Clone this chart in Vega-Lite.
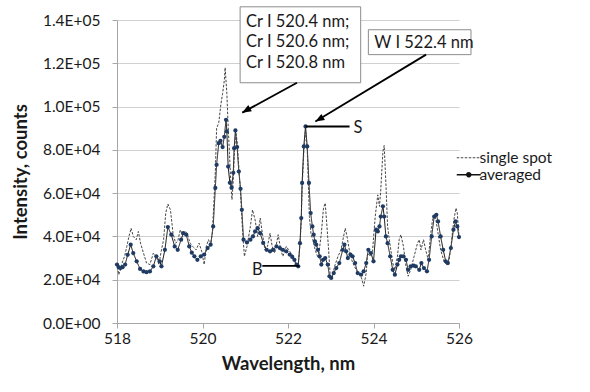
{
  "$schema": "https://vega.github.io/schema/vega-lite/v6.json",
  "autosize": "none",
  "width": 342,
  "height": 303,
  "padding": {"left": 117, "top": 20, "right": 131, "bottom": 69},
  "background": "white",
  "config": {
    "font": "Lato",
    "view": {"stroke": null},
    "axis": {
      "labelFont": "Lato", "labelFontSize": 15.5, "labelColor": "#1a1a1a",
      "titleFont": "Lato", "titleFontSize": 18.5, "titleFontWeight": "bold", "titleColor": "#1a1a1a",
      "domainColor": "#a6a6a6", "tickColor": "#a6a6a6", "tickSize": 5, "labelFlush": false, "labelOverlap": false
    }
  },
  "datasets": {
    "spectra": [
      {"wavelength": 518.00, "intensity": 27000, "series": "averaged"},
      {"wavelength": 518.04, "intensity": 25800, "series": "averaged"},
      {"wavelength": 518.08, "intensity": 25400, "series": "averaged"},
      {"wavelength": 518.13, "intensity": 25800, "series": "averaged"},
      {"wavelength": 518.19, "intensity": 27000, "series": "averaged"},
      {"wavelength": 518.25, "intensity": 31500, "series": "averaged"},
      {"wavelength": 518.32, "intensity": 36200, "series": "averaged"},
      {"wavelength": 518.38, "intensity": 32300, "series": "averaged"},
      {"wavelength": 518.46, "intensity": 28500, "series": "averaged"},
      {"wavelength": 518.54, "intensity": 25000, "series": "averaged"},
      {"wavelength": 518.62, "intensity": 23800, "series": "averaged"},
      {"wavelength": 518.69, "intensity": 23500, "series": "averaged"},
      {"wavelength": 518.77, "intensity": 23800, "series": "averaged"},
      {"wavelength": 518.85, "intensity": 26200, "series": "averaged"},
      {"wavelength": 518.92, "intensity": 30800, "series": "averaged"},
      {"wavelength": 519.00, "intensity": 28500, "series": "averaged"},
      {"wavelength": 519.04, "intensity": 26200, "series": "averaged"},
      {"wavelength": 519.12, "intensity": 33800, "series": "averaged"},
      {"wavelength": 519.19, "intensity": 44300, "series": "averaged"},
      {"wavelength": 519.27, "intensity": 40800, "series": "averaged"},
      {"wavelength": 519.35, "intensity": 35400, "series": "averaged"},
      {"wavelength": 519.42, "intensity": 33800, "series": "averaged"},
      {"wavelength": 519.50, "intensity": 38500, "series": "averaged"},
      {"wavelength": 519.55, "intensity": 41500, "series": "averaged"},
      {"wavelength": 519.62, "intensity": 40800, "series": "averaged"},
      {"wavelength": 519.69, "intensity": 35400, "series": "averaged"},
      {"wavelength": 519.75, "intensity": 32500, "series": "averaged"},
      {"wavelength": 519.81, "intensity": 30800, "series": "averaged"},
      {"wavelength": 519.88, "intensity": 29200, "series": "averaged"},
      {"wavelength": 519.96, "intensity": 30800, "series": "averaged"},
      {"wavelength": 520.04, "intensity": 31600, "series": "averaged"},
      {"wavelength": 520.12, "intensity": 34600, "series": "averaged"},
      {"wavelength": 520.19, "intensity": 36200, "series": "averaged"},
      {"wavelength": 520.25, "intensity": 44600, "series": "averaged"},
      {"wavelength": 520.30, "intensity": 62400, "series": "averaged"},
      {"wavelength": 520.33, "intensity": 73100, "series": "averaged"},
      {"wavelength": 520.38, "intensity": 83100, "series": "averaged"},
      {"wavelength": 520.42, "intensity": 84200, "series": "averaged"},
      {"wavelength": 520.47, "intensity": 81300, "series": "averaged"},
      {"wavelength": 520.51, "intensity": 86000, "series": "averaged"},
      {"wavelength": 520.55, "intensity": 93900, "series": "averaged"},
      {"wavelength": 520.57, "intensity": 88500, "series": "averaged"},
      {"wavelength": 520.60, "intensity": 72300, "series": "averaged"},
      {"wavelength": 520.64, "intensity": 64800, "series": "averaged"},
      {"wavelength": 520.68, "intensity": 62500, "series": "averaged"},
      {"wavelength": 520.72, "intensity": 69400, "series": "averaged"},
      {"wavelength": 520.74, "intensity": 80800, "series": "averaged"},
      {"wavelength": 520.77, "intensity": 89000, "series": "averaged"},
      {"wavelength": 520.81, "intensity": 81300, "series": "averaged"},
      {"wavelength": 520.85, "intensity": 70000, "series": "averaged"},
      {"wavelength": 520.89, "intensity": 62000, "series": "averaged"},
      {"wavelength": 520.92, "intensity": 52300, "series": "averaged"},
      {"wavelength": 520.96, "intensity": 38500, "series": "averaged"},
      {"wavelength": 521.04, "intensity": 37200, "series": "averaged"},
      {"wavelength": 521.12, "intensity": 38500, "series": "averaged"},
      {"wavelength": 521.18, "intensity": 40000, "series": "averaged"},
      {"wavelength": 521.23, "intensity": 42300, "series": "averaged"},
      {"wavelength": 521.29, "intensity": 43800, "series": "averaged"},
      {"wavelength": 521.35, "intensity": 41500, "series": "averaged"},
      {"wavelength": 521.42, "intensity": 37000, "series": "averaged"},
      {"wavelength": 521.50, "intensity": 33800, "series": "averaged"},
      {"wavelength": 521.58, "intensity": 33100, "series": "averaged"},
      {"wavelength": 521.65, "intensity": 33800, "series": "averaged"},
      {"wavelength": 521.73, "intensity": 35400, "series": "averaged"},
      {"wavelength": 521.81, "intensity": 34600, "series": "averaged"},
      {"wavelength": 521.88, "intensity": 33800, "series": "averaged"},
      {"wavelength": 521.96, "intensity": 33100, "series": "averaged"},
      {"wavelength": 522.04, "intensity": 31600, "series": "averaged"},
      {"wavelength": 522.10, "intensity": 30500, "series": "averaged"},
      {"wavelength": 522.15, "intensity": 29200, "series": "averaged"},
      {"wavelength": 522.20, "intensity": 27000, "series": "averaged"},
      {"wavelength": 522.24, "intensity": 26200, "series": "averaged"},
      {"wavelength": 522.28, "intensity": 36900, "series": "averaged"},
      {"wavelength": 522.31, "intensity": 48500, "series": "averaged"},
      {"wavelength": 522.33, "intensity": 64700, "series": "averaged"},
      {"wavelength": 522.37, "intensity": 81600, "series": "averaged"},
      {"wavelength": 522.41, "intensity": 90800, "series": "averaged"},
      {"wavelength": 522.45, "intensity": 81600, "series": "averaged"},
      {"wavelength": 522.49, "intensity": 64700, "series": "averaged"},
      {"wavelength": 522.53, "intensity": 50800, "series": "averaged"},
      {"wavelength": 522.57, "intensity": 44600, "series": "averaged"},
      {"wavelength": 522.60, "intensity": 40800, "series": "averaged"},
      {"wavelength": 522.63, "intensity": 37700, "series": "averaged"},
      {"wavelength": 522.66, "intensity": 36200, "series": "averaged"},
      {"wavelength": 522.70, "intensity": 33800, "series": "averaged"},
      {"wavelength": 522.74, "intensity": 30800, "series": "averaged"},
      {"wavelength": 522.78, "intensity": 27000, "series": "averaged"},
      {"wavelength": 522.82, "intensity": 29200, "series": "averaged"},
      {"wavelength": 522.87, "intensity": 30000, "series": "averaged"},
      {"wavelength": 522.93, "intensity": 27000, "series": "averaged"},
      {"wavelength": 522.97, "intensity": 21600, "series": "averaged"},
      {"wavelength": 523.01, "intensity": 20800, "series": "averaged"},
      {"wavelength": 523.07, "intensity": 23100, "series": "averaged"},
      {"wavelength": 523.13, "intensity": 25400, "series": "averaged"},
      {"wavelength": 523.20, "intensity": 27700, "series": "averaged"},
      {"wavelength": 523.28, "intensity": 33800, "series": "averaged"},
      {"wavelength": 523.32, "intensity": 36200, "series": "averaged"},
      {"wavelength": 523.36, "intensity": 33100, "series": "averaged"},
      {"wavelength": 523.40, "intensity": 30000, "series": "averaged"},
      {"wavelength": 523.46, "intensity": 31600, "series": "averaged"},
      {"wavelength": 523.51, "intensity": 30800, "series": "averaged"},
      {"wavelength": 523.57, "intensity": 27700, "series": "averaged"},
      {"wavelength": 523.63, "intensity": 23100, "series": "averaged"},
      {"wavelength": 523.71, "intensity": 22300, "series": "averaged"},
      {"wavelength": 523.77, "intensity": 23900, "series": "averaged"},
      {"wavelength": 523.83, "intensity": 27700, "series": "averaged"},
      {"wavelength": 523.88, "intensity": 33800, "series": "averaged"},
      {"wavelength": 523.94, "intensity": 32300, "series": "averaged"},
      {"wavelength": 524.00, "intensity": 28500, "series": "averaged"},
      {"wavelength": 524.06, "intensity": 43100, "series": "averaged"},
      {"wavelength": 524.10, "intensity": 42300, "series": "averaged"},
      {"wavelength": 524.14, "intensity": 44600, "series": "averaged"},
      {"wavelength": 524.17, "intensity": 49200, "series": "averaged"},
      {"wavelength": 524.22, "intensity": 53900, "series": "averaged"},
      {"wavelength": 524.25, "intensity": 49200, "series": "averaged"},
      {"wavelength": 524.29, "intensity": 40000, "series": "averaged"},
      {"wavelength": 524.33, "intensity": 36900, "series": "averaged"},
      {"wavelength": 524.39, "intensity": 30800, "series": "averaged"},
      {"wavelength": 524.45, "intensity": 24600, "series": "averaged"},
      {"wavelength": 524.50, "intensity": 22300, "series": "averaged"},
      {"wavelength": 524.56, "intensity": 27000, "series": "averaged"},
      {"wavelength": 524.60, "intensity": 29200, "series": "averaged"},
      {"wavelength": 524.64, "intensity": 30800, "series": "averaged"},
      {"wavelength": 524.70, "intensity": 30800, "series": "averaged"},
      {"wavelength": 524.76, "intensity": 29200, "series": "averaged"},
      {"wavelength": 524.81, "intensity": 24600, "series": "averaged"},
      {"wavelength": 524.87, "intensity": 26200, "series": "averaged"},
      {"wavelength": 524.94, "intensity": 26500, "series": "averaged"},
      {"wavelength": 524.99, "intensity": 26200, "series": "averaged"},
      {"wavelength": 525.07, "intensity": 24600, "series": "averaged"},
      {"wavelength": 525.12, "intensity": 27700, "series": "averaged"},
      {"wavelength": 525.18, "intensity": 25400, "series": "averaged"},
      {"wavelength": 525.25, "intensity": 23900, "series": "averaged"},
      {"wavelength": 525.30, "intensity": 29200, "series": "averaged"},
      {"wavelength": 525.36, "intensity": 40000, "series": "averaged"},
      {"wavelength": 525.42, "intensity": 49200, "series": "averaged"},
      {"wavelength": 525.47, "intensity": 50000, "series": "averaged"},
      {"wavelength": 525.51, "intensity": 46900, "series": "averaged"},
      {"wavelength": 525.57, "intensity": 40000, "series": "averaged"},
      {"wavelength": 525.63, "intensity": 33800, "series": "averaged"},
      {"wavelength": 525.69, "intensity": 28500, "series": "averaged"},
      {"wavelength": 525.74, "intensity": 27700, "series": "averaged"},
      {"wavelength": 525.81, "intensity": 34600, "series": "averaged"},
      {"wavelength": 525.87, "intensity": 43100, "series": "averaged"},
      {"wavelength": 525.92, "intensity": 46900, "series": "averaged"},
      {"wavelength": 525.96, "intensity": 44600, "series": "averaged"},
      {"wavelength": 526.00, "intensity": 39700, "series": "averaged"},
      {"wavelength": 518.00, "intensity": 27700, "series": "single spot"},
      {"wavelength": 518.04, "intensity": 22300, "series": "single spot"},
      {"wavelength": 518.08, "intensity": 24500, "series": "single spot"},
      {"wavelength": 518.12, "intensity": 27700, "series": "single spot"},
      {"wavelength": 518.18, "intensity": 31000, "series": "single spot"},
      {"wavelength": 518.23, "intensity": 35400, "series": "single spot"},
      {"wavelength": 518.28, "intensity": 40000, "series": "single spot"},
      {"wavelength": 518.33, "intensity": 43800, "series": "single spot"},
      {"wavelength": 518.38, "intensity": 40000, "series": "single spot"},
      {"wavelength": 518.45, "intensity": 38500, "series": "single spot"},
      {"wavelength": 518.50, "intensity": 42300, "series": "single spot"},
      {"wavelength": 518.55, "intensity": 36900, "series": "single spot"},
      {"wavelength": 518.62, "intensity": 32300, "series": "single spot"},
      {"wavelength": 518.69, "intensity": 27700, "series": "single spot"},
      {"wavelength": 518.77, "intensity": 27000, "series": "single spot"},
      {"wavelength": 518.85, "intensity": 32300, "series": "single spot"},
      {"wavelength": 518.92, "intensity": 30800, "series": "single spot"},
      {"wavelength": 518.98, "intensity": 27000, "series": "single spot"},
      {"wavelength": 519.04, "intensity": 33800, "series": "single spot"},
      {"wavelength": 519.09, "intensity": 38500, "series": "single spot"},
      {"wavelength": 519.14, "intensity": 50800, "series": "single spot"},
      {"wavelength": 519.19, "intensity": 55000, "series": "single spot"},
      {"wavelength": 519.25, "intensity": 52300, "series": "single spot"},
      {"wavelength": 519.31, "intensity": 41500, "series": "single spot"},
      {"wavelength": 519.37, "intensity": 36900, "series": "single spot"},
      {"wavelength": 519.42, "intensity": 37700, "series": "single spot"},
      {"wavelength": 519.48, "intensity": 43100, "series": "single spot"},
      {"wavelength": 519.54, "intensity": 40000, "series": "single spot"},
      {"wavelength": 519.60, "intensity": 42300, "series": "single spot"},
      {"wavelength": 519.65, "intensity": 40800, "series": "single spot"},
      {"wavelength": 519.71, "intensity": 36900, "series": "single spot"},
      {"wavelength": 519.77, "intensity": 35400, "series": "single spot"},
      {"wavelength": 519.85, "intensity": 33800, "series": "single spot"},
      {"wavelength": 519.92, "intensity": 36900, "series": "single spot"},
      {"wavelength": 519.98, "intensity": 33100, "series": "single spot"},
      {"wavelength": 520.04, "intensity": 27000, "series": "single spot"},
      {"wavelength": 520.09, "intensity": 35400, "series": "single spot"},
      {"wavelength": 520.14, "intensity": 38500, "series": "single spot"},
      {"wavelength": 520.19, "intensity": 36200, "series": "single spot"},
      {"wavelength": 520.23, "intensity": 41500, "series": "single spot"},
      {"wavelength": 520.27, "intensity": 57000, "series": "single spot"},
      {"wavelength": 520.30, "intensity": 70000, "series": "single spot"},
      {"wavelength": 520.33, "intensity": 90000, "series": "single spot"},
      {"wavelength": 520.38, "intensity": 92500, "series": "single spot"},
      {"wavelength": 520.43, "intensity": 101000, "series": "single spot"},
      {"wavelength": 520.47, "intensity": 106000, "series": "single spot"},
      {"wavelength": 520.51, "intensity": 112000, "series": "single spot"},
      {"wavelength": 520.53, "intensity": 118000, "series": "single spot"},
      {"wavelength": 520.57, "intensity": 106000, "series": "single spot"},
      {"wavelength": 520.60, "intensity": 91000, "series": "single spot"},
      {"wavelength": 520.63, "intensity": 78700, "series": "single spot"},
      {"wavelength": 520.67, "intensity": 62000, "series": "single spot"},
      {"wavelength": 520.69, "intensity": 57000, "series": "single spot"},
      {"wavelength": 520.72, "intensity": 66000, "series": "single spot"},
      {"wavelength": 520.75, "intensity": 80000, "series": "single spot"},
      {"wavelength": 520.78, "intensity": 88000, "series": "single spot"},
      {"wavelength": 520.81, "intensity": 84000, "series": "single spot"},
      {"wavelength": 520.85, "intensity": 72000, "series": "single spot"},
      {"wavelength": 520.88, "intensity": 63100, "series": "single spot"},
      {"wavelength": 520.94, "intensity": 41500, "series": "single spot"},
      {"wavelength": 520.98, "intensity": 30800, "series": "single spot"},
      {"wavelength": 521.04, "intensity": 35400, "series": "single spot"},
      {"wavelength": 521.12, "intensity": 44600, "series": "single spot"},
      {"wavelength": 521.17, "intensity": 52300, "series": "single spot"},
      {"wavelength": 521.23, "intensity": 47700, "series": "single spot"},
      {"wavelength": 521.29, "intensity": 40000, "series": "single spot"},
      {"wavelength": 521.35, "intensity": 48500, "series": "single spot"},
      {"wavelength": 521.40, "intensity": 41500, "series": "single spot"},
      {"wavelength": 521.46, "intensity": 33800, "series": "single spot"},
      {"wavelength": 521.52, "intensity": 35400, "series": "single spot"},
      {"wavelength": 521.58, "intensity": 41500, "series": "single spot"},
      {"wavelength": 521.63, "intensity": 35400, "series": "single spot"},
      {"wavelength": 521.69, "intensity": 32300, "series": "single spot"},
      {"wavelength": 521.77, "intensity": 40800, "series": "single spot"},
      {"wavelength": 521.83, "intensity": 33800, "series": "single spot"},
      {"wavelength": 521.88, "intensity": 30800, "series": "single spot"},
      {"wavelength": 521.96, "intensity": 35400, "series": "single spot"},
      {"wavelength": 522.04, "intensity": 33000, "series": "single spot"},
      {"wavelength": 522.08, "intensity": 32300, "series": "single spot"},
      {"wavelength": 522.14, "intensity": 29200, "series": "single spot"},
      {"wavelength": 522.19, "intensity": 27000, "series": "single spot"},
      {"wavelength": 522.24, "intensity": 27500, "series": "single spot"},
      {"wavelength": 522.28, "intensity": 36000, "series": "single spot"},
      {"wavelength": 522.31, "intensity": 47000, "series": "single spot"},
      {"wavelength": 522.33, "intensity": 62000, "series": "single spot"},
      {"wavelength": 522.37, "intensity": 79000, "series": "single spot"},
      {"wavelength": 522.41, "intensity": 89000, "series": "single spot"},
      {"wavelength": 522.45, "intensity": 80000, "series": "single spot"},
      {"wavelength": 522.50, "intensity": 49200, "series": "single spot"},
      {"wavelength": 522.54, "intensity": 40800, "series": "single spot"},
      {"wavelength": 522.58, "intensity": 38500, "series": "single spot"},
      {"wavelength": 522.62, "intensity": 35000, "series": "single spot"},
      {"wavelength": 522.66, "intensity": 32300, "series": "single spot"},
      {"wavelength": 522.71, "intensity": 30000, "series": "single spot"},
      {"wavelength": 522.78, "intensity": 41500, "series": "single spot"},
      {"wavelength": 522.83, "intensity": 53100, "series": "single spot"},
      {"wavelength": 522.87, "intensity": 55400, "series": "single spot"},
      {"wavelength": 522.90, "intensity": 47700, "series": "single spot"},
      {"wavelength": 522.95, "intensity": 33800, "series": "single spot"},
      {"wavelength": 522.99, "intensity": 20800, "series": "single spot"},
      {"wavelength": 523.03, "intensity": 20800, "series": "single spot"},
      {"wavelength": 523.09, "intensity": 26200, "series": "single spot"},
      {"wavelength": 523.17, "intensity": 30800, "series": "single spot"},
      {"wavelength": 523.24, "intensity": 33800, "series": "single spot"},
      {"wavelength": 523.30, "intensity": 40000, "series": "single spot"},
      {"wavelength": 523.34, "intensity": 43800, "series": "single spot"},
      {"wavelength": 523.38, "intensity": 40000, "series": "single spot"},
      {"wavelength": 523.44, "intensity": 33100, "series": "single spot"},
      {"wavelength": 523.49, "intensity": 29200, "series": "single spot"},
      {"wavelength": 523.55, "intensity": 26200, "series": "single spot"},
      {"wavelength": 523.62, "intensity": 23900, "series": "single spot"},
      {"wavelength": 523.67, "intensity": 22300, "series": "single spot"},
      {"wavelength": 523.72, "intensity": 20800, "series": "single spot"},
      {"wavelength": 523.77, "intensity": 17000, "series": "single spot"},
      {"wavelength": 523.83, "intensity": 23100, "series": "single spot"},
      {"wavelength": 523.86, "intensity": 32300, "series": "single spot"},
      {"wavelength": 523.93, "intensity": 30800, "series": "single spot"},
      {"wavelength": 523.98, "intensity": 33800, "series": "single spot"},
      {"wavelength": 524.04, "intensity": 49200, "series": "single spot"},
      {"wavelength": 524.10, "intensity": 59200, "series": "single spot"},
      {"wavelength": 524.14, "intensity": 53900, "series": "single spot"},
      {"wavelength": 524.17, "intensity": 61500, "series": "single spot"},
      {"wavelength": 524.22, "intensity": 79200, "series": "single spot"},
      {"wavelength": 524.25, "intensity": 82000, "series": "single spot"},
      {"wavelength": 524.29, "intensity": 64600, "series": "single spot"},
      {"wavelength": 524.33, "intensity": 44600, "series": "single spot"},
      {"wavelength": 524.37, "intensity": 38500, "series": "single spot"},
      {"wavelength": 524.45, "intensity": 27700, "series": "single spot"},
      {"wavelength": 524.50, "intensity": 24600, "series": "single spot"},
      {"wavelength": 524.56, "intensity": 30800, "series": "single spot"},
      {"wavelength": 524.60, "intensity": 38500, "series": "single spot"},
      {"wavelength": 524.64, "intensity": 40800, "series": "single spot"},
      {"wavelength": 524.70, "intensity": 35400, "series": "single spot"},
      {"wavelength": 524.76, "intensity": 26200, "series": "single spot"},
      {"wavelength": 524.81, "intensity": 21600, "series": "single spot"},
      {"wavelength": 524.87, "intensity": 24600, "series": "single spot"},
      {"wavelength": 524.95, "intensity": 30800, "series": "single spot"},
      {"wavelength": 525.03, "intensity": 36900, "series": "single spot"},
      {"wavelength": 525.07, "intensity": 38500, "series": "single spot"},
      {"wavelength": 525.11, "intensity": 33800, "series": "single spot"},
      {"wavelength": 525.17, "intensity": 38500, "series": "single spot"},
      {"wavelength": 525.22, "intensity": 33800, "series": "single spot"},
      {"wavelength": 525.28, "intensity": 29200, "series": "single spot"},
      {"wavelength": 525.34, "intensity": 41500, "series": "single spot"},
      {"wavelength": 525.38, "intensity": 47700, "series": "single spot"},
      {"wavelength": 525.42, "intensity": 50000, "series": "single spot"},
      {"wavelength": 525.46, "intensity": 47700, "series": "single spot"},
      {"wavelength": 525.51, "intensity": 41500, "series": "single spot"},
      {"wavelength": 525.57, "intensity": 33800, "series": "single spot"},
      {"wavelength": 525.65, "intensity": 28500, "series": "single spot"},
      {"wavelength": 525.71, "intensity": 27000, "series": "single spot"},
      {"wavelength": 525.77, "intensity": 29200, "series": "single spot"},
      {"wavelength": 525.82, "intensity": 36900, "series": "single spot"},
      {"wavelength": 525.88, "intensity": 47700, "series": "single spot"},
      {"wavelength": 525.93, "intensity": 53100, "series": "single spot"},
      {"wavelength": 525.96, "intensity": 50800, "series": "single spot"},
      {"wavelength": 526.00, "intensity": 40000, "series": "single spot"}
    ],
    "boxes": [
      {"wavelength": 520.88, "wavelength2": 523.70, "intensity": 146100, "intensity2": 111000},
      {"wavelength": 523.88, "wavelength2": 526.28, "intensity": 135500, "intensity2": 124000}
    ],
    "labels": [
      {"wavelength": 521.02, "intensity": 139200, "text": "Cr I 520.4 nm;"},
      {"wavelength": 521.02, "intensity": 130000, "text": "Cr I 520.6 nm;"},
      {"wavelength": 521.02, "intensity": 120000, "text": "Cr I 520.8 nm"},
      {"wavelength": 524.02, "intensity": 129400, "text": "W I 522.4 nm"},
      {"wavelength": 523.53, "intensity": 90100, "text": "S"},
      {"wavelength": 521.16, "intensity": 24600, "text": "B"}
    ],
    "segments": [
      {"wavelength": 522.41, "intensity": 90800, "wavelength2": 523.44, "intensity2": 90800},
      {"wavelength": 521.40, "intensity": 26400, "wavelength2": 522.26, "intensity2": 26400},
      {"wavelength": 522.21, "intensity": 111000, "wavelength2": 520.93, "intensity2": 97200},
      {"wavelength": 525.23, "intensity": 124000, "wavelength2": 522.64, "intensity2": 93100}
    ],
    "arrowheads": [
      {"wavelength": 520.93, "intensity": 97200},
      {"wavelength": 522.64, "intensity": 93100}
    ]
  },
  "layer": [
    {
      "data": {"name": "spectra"},
      "mark": {"type": "line", "strokeWidth": 1},
      "encoding": {
        "x": {
          "field": "wavelength", "type": "quantitative",
          "scale": {"domain": [518, 526], "nice": false, "zero": false},
          "axis": {"title": "Wavelength, nm", "values": [518, 520, 522, 524, 526], "format": "d", "grid": false, "labelPadding": 3, "titlePadding": 8}
        },
        "y": {
          "field": "intensity", "type": "quantitative",
          "scale": {"domain": [0, 140000], "nice": false},
          "axis": {
            "title": "Intensity, counts",
            "values": [0, 20000, 40000, 60000, 80000, 100000, 120000, 140000],
            "labelExpr": "replace(upper(format(datum.value, '.1e')), 'E+', 'E+0')",
            "grid": true, "gridColor": "#d0d0d0", "labelPadding": 12, "titlePadding": 12
          }
        },
        "color": {
          "field": "series", "type": "nominal",
          "scale": {"domain": ["single spot", "averaged"], "range": ["#444444", "#111111"]},
          "legend": {
            "orient": "none", "legendX": 344, "legendY": 130, "title": null, "padding": 0,
            "labelFont": "Lato", "labelFontSize": 15.5, "labelColor": "#1a1a1a", "labelOffset": 3,
            "symbolSize": 576, "rowPadding": -9,
            "encode": {
              "symbols": {
                "update": {
                  "size": {"value": 576},
                  "shape": {"signal": "datum.value === 'averaged' ? 'M-1,0L1,0M-0.16,0A0.16,0.16,0,1,1,0.16,0A0.16,0.16,0,1,1,-0.16,0Z' : 'M-1,0L1,0'"},
                  "fill": {"signal": "datum.value === 'averaged' ? '#1F3B63' : 'transparent'"},
                  "strokeWidth": {"signal": "datum.value === 'averaged' ? 1.7 : 1"}
                }
              }
            }
          }
        },
        "strokeDash": {
          "field": "series", "type": "nominal",
          "scale": {"domain": ["single spot", "averaged"], "range": [[2.5, 1.5], [1, 0]]}
        },
        "strokeWidth": {"condition": {"test": "datum.series === 'averaged'", "value": 1.9}, "value": 1}
      }
    },
    {
      "data": {"name": "spectra"},
      "transform": [{"filter": "datum.series === 'averaged'"}],
      "mark": {"type": "point", "filled": true, "size": 18, "color": "#1F3B63", "opacity": 1},
      "encoding": {
        "x": {"field": "wavelength", "type": "quantitative"},
        "y": {"field": "intensity", "type": "quantitative"}
      }
    },
    {
      "data": {"name": "boxes"},
      "mark": {"type": "rect", "fill": "white", "stroke": "#8c8c8c", "strokeWidth": 1},
      "encoding": {
        "x": {"field": "wavelength", "type": "quantitative"},
        "x2": {"field": "wavelength2"},
        "y": {"field": "intensity", "type": "quantitative"},
        "y2": {"field": "intensity2"}
      }
    },
    {
      "data": {"name": "segments"},
      "mark": {"type": "rule", "color": "#000000", "strokeWidth": 1.8},
      "encoding": {
        "x": {"field": "wavelength", "type": "quantitative"},
        "x2": {"field": "wavelength2"},
        "y": {"field": "intensity", "type": "quantitative"},
        "y2": {"field": "intensity2"}
      }
    },
    {
      "data": {"name": "arrowheads"},
      "mark": {"type": "point", "shape": "M0,0L-0.4,1L0.4,1Z", "size": 324, "angle": 240, "filled": true, "color": "#000000", "opacity": 1, "strokeWidth": 0},
      "encoding": {
        "x": {"field": "wavelength", "type": "quantitative"},
        "y": {"field": "intensity", "type": "quantitative"}
      }
    },
    {
      "data": {"name": "labels"},
      "mark": {"type": "text", "align": "left", "baseline": "middle", "font": "Lato", "fontSize": 16.5, "color": "#1a1a1a"},
      "encoding": {
        "x": {"field": "wavelength", "type": "quantitative"},
        "y": {"field": "intensity", "type": "quantitative"},
        "text": {"field": "text"}
      }
    }
  ]
}
